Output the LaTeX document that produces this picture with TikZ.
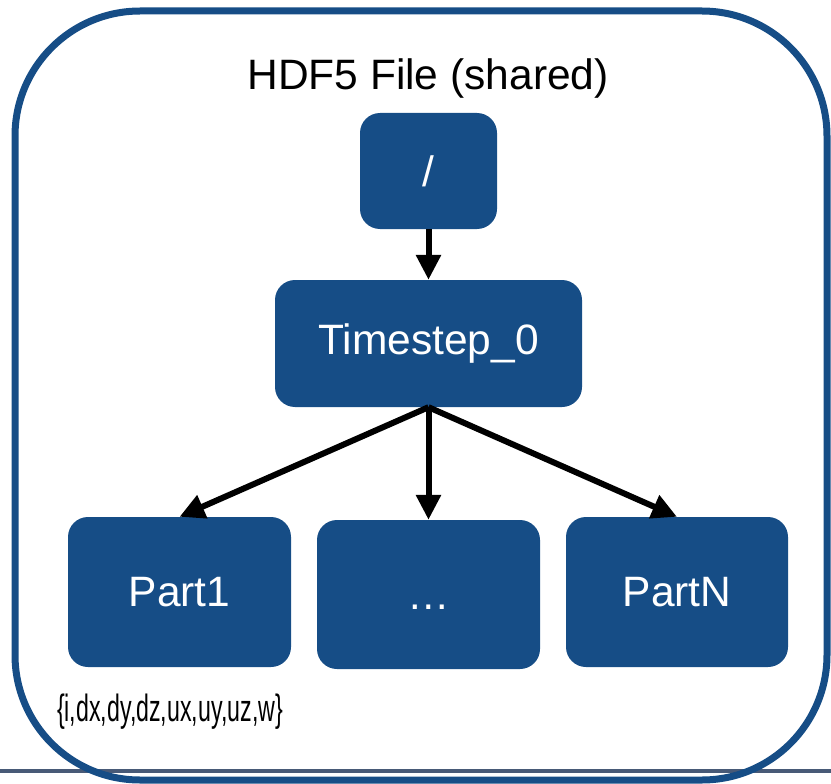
\documentclass[tikz,border=0pt]{standalone}
\usepackage{fontspec}
\setmainfont{Liberation Sans}
\usetikzlibrary{arrows.meta}
\definecolor{groupblue}{RGB}{22,77,134}
\definecolor{rulegray}{RGB}{72,90,119}
\tikzset{
  grp/.style={draw=none, fill=groupblue, rounded corners=20pt, inner sep=0pt,
              text=white, font=\fontsize{42.5}{50}\selectfont},
  link/.style={line width=6pt, -{Triangle[width=24pt,length=25pt]}},
}
\begin{document}
\begin{tikzpicture}[x=1pt,y=-1pt]
  \useasboundingbox (0,0) rectangle (831,784);
  % rule along the bottom edge
  \draw[rulegray, line width=4pt] (0,771) -- (831,771);
  % outer file frame
  \draw[groupblue, line width=7pt, rounded corners=125pt] (15,11) rectangle (827,780);
  \node[anchor=base, font=\fontsize{42.5}{50}\selectfont] (title) at (428,89) {HDF5 File (shared)};

  % groups
  \node[grp, minimum width=137pt, minimum height=116pt] (root) at (428.5,171) {/};
  \node[grp, minimum width=307pt, minimum height=127pt] (ts) at (428.5,343.5) {Timestep\_0};
  \node[grp, minimum width=223pt, minimum height=150pt] (p1) at (179.5,592) {Part1};
  \node[grp, minimum width=223pt, minimum height=149pt] (pd) at (428.5,594.5) {\vphantom{P1}…};
  \node[grp, minimum width=222pt, minimum height=150pt] (pn) at (677,592) {PartN};

  % datasets in each part
  \node[anchor=base, inner sep=0pt, font=\fontsize{38}{45}\selectfont] (fields) at (170,721)
    {\scalebox{0.61}[1]{\{i,dx,dy,dz,ux,uy,uz,w\}}};

  % hierarchy links
  \draw[link] (root.south) -- (ts.north);
  \draw[link] (ts.south) -- (p1.north);
  \draw[link] (ts.south) -- (pd.north);
  \draw[link] (ts.south) -- (pn.north);
\end{tikzpicture}
\end{document}
